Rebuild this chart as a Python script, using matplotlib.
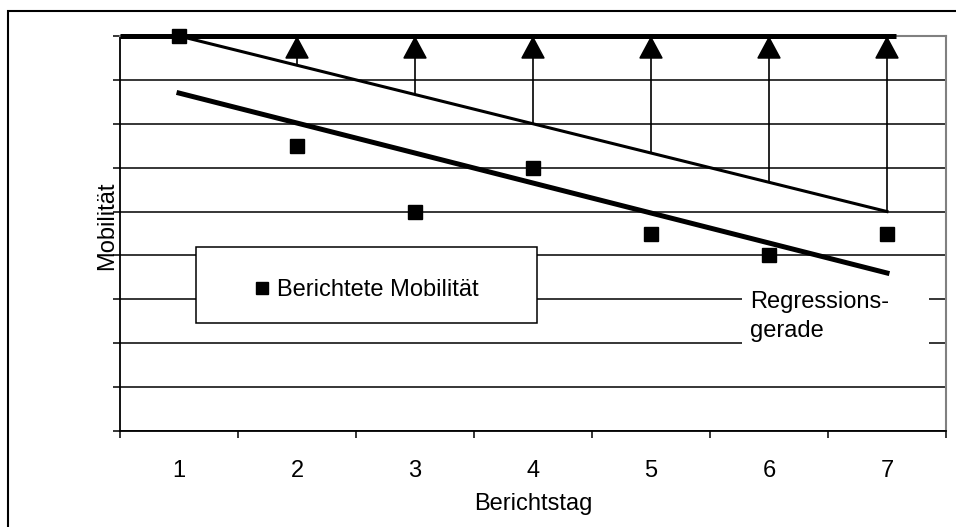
import matplotlib
matplotlib.use("Agg")
import matplotlib.pyplot as plt
from matplotlib.patches import Rectangle
from matplotlib.lines import Line2D

plt.rcParams["font.family"] = ["Liberation Sans", "DejaVu Sans"]

# Daten
days = [1, 2, 3, 4, 5, 6, 7]
reported = [9.0, 6.5, 5.0, 6.0, 4.5, 4.0, 4.5]
reg_days = [1, 7]
reg_values = [7.7, 3.6]
upper_values = [9.0, 5.0]
arrow_days = [2, 3, 4, 5, 6, 7]
arrow_base = [8.33, 7.67, 7.0, 6.33, 5.67, 5.0]
ceiling = 9.0
ceiling_x = [0.5, 7.08]
tick_labels = ["1", "2", "3", "4", "5", "6", "7"]

fs = 17

fig = plt.figure(figsize=(9.56, 5.27), dpi=100)
ax = fig.add_axes([120 / 956, 1 - 431 / 527, 826 / 956, 395 / 527])

ax.set_xlim(0.5, 7.5)
ax.set_ylim(0, 9)

# Gitternetz
ax.set_yticks(range(0, 10))
ax.set_yticklabels([])
ax.yaxis.grid(True, color="black", linewidth=1.1, zorder=0)
ax.set_axisbelow(True)

ax.set_xticks([x + 0.5 for x in range(0, 8)])
ax.set_xticklabels([])
ax.set_xticks(days, minor=True)
ax.set_xticklabels(tick_labels, minor=True, fontsize=fs)
ax.tick_params(axis="x", which="major", length=5, width=1.1, direction="out")
ax.tick_params(axis="x", which="minor", length=0, pad=21)
ax.tick_params(axis="y", which="major", length=5, width=1.1, direction="out")

for side in ["left", "bottom"]:
    ax.spines[side].set_linewidth(1.3)
    ax.spines[side].set_color("black")
for side in ["right", "top"]:
    ax.spines[side].set_linewidth(1.5)
    ax.spines[side].set_color("#808080")

# Pfeile von der oberen Geraden zur Maximallinie
for d, b in zip(arrow_days, arrow_base):
    ax.annotate("", xy=(d, ceiling), xytext=(d, b),
                arrowprops=dict(arrowstyle="-|>,head_length=1.45,head_width=0.78",
                                mutation_scale=10, color="black", lw=1.2,
                                shrinkA=0, shrinkB=0),
                zorder=3, annotation_clip=False)

ax.plot(ceiling_x, [ceiling, ceiling], color="black", linewidth=3.6,
        solid_capstyle="butt", zorder=5, clip_on=False)
ax.plot(reg_days, upper_values, color="black", linewidth=2.2, zorder=4)
ax.plot(reg_days, reg_values, color="black", linewidth=3.6, zorder=4)
ax.plot(days, reported, linestyle="none", marker="s", markersize=9.5,
        color="black", zorder=6, clip_on=False)

ax.set_xlabel("Berichtstag", fontsize=fs, va="center")
ax.xaxis.set_label_coords(0.5, -0.185)
ax.set_ylabel("Mobilität", fontsize=fs, va="center")
ax.yaxis.set_label_coords(-0.016, 0.52)

# Legendenkasten
ax.add_patch(Rectangle((0.092, 0.273), 0.413, 0.193, transform=ax.transAxes,
                       facecolor="white", edgecolor="black", linewidth=1.1, zorder=7))
handle = Line2D([], [], linestyle="none", marker="s", markersize=9, color="black")
leg = ax.legend([handle], ["Berichtete Mobilität"], loc="center",
                bbox_to_anchor=(0.298, 0.357), frameon=False, fontsize=fs,
                handlelength=0.7, handletextpad=0.3, borderpad=0)
leg.set_zorder(8)

# Beschriftung der Regressionsgerade
ax.add_patch(Rectangle((0.753, 0.205), 0.226, 0.215, transform=ax.transAxes,
                       facecolor="white", edgecolor="none", zorder=2))
ax.text(0.763, 0.29, "Regressions-\ngerade", transform=ax.transAxes,
        fontsize=fs, ha="left", va="center", linespacing=1.45, zorder=8)

# Rahmen um die Grafik
fig.patches.append(Rectangle((8 / 956, -0.1), 1.2, 1.1 - 11 / 527,
                             transform=fig.transFigure, fill=False,
                             edgecolor="black", linewidth=1.5))

fig.savefig("out.png", dpi=100)
